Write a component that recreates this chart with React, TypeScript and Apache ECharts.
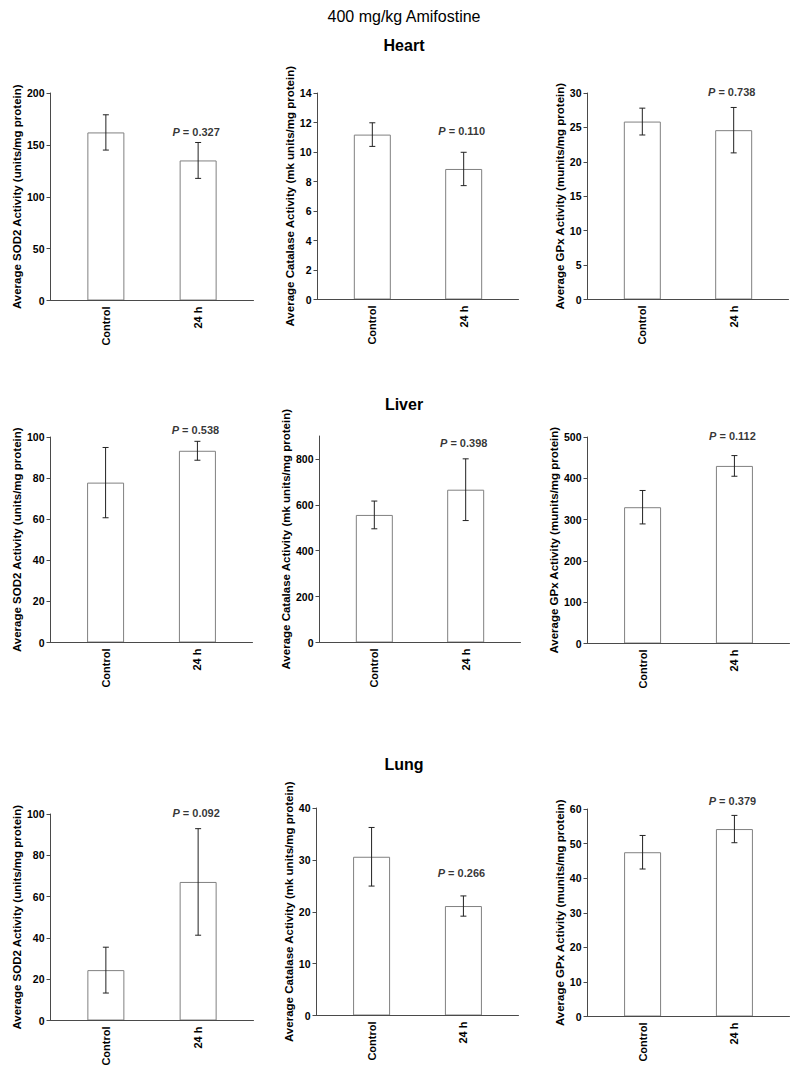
import React, { useEffect, useRef } from "react";
import * as echarts from "echarts";

// ---------- data ----------
const categories = ["Control", "24 h"];

const heartSod2Means = [162, 135];
const heartSod2Sem = [17, 17.3];
const heartSod2Ticks = [0, 50, 100, 150, 200];

const heartCatMeans = [11.18, 8.85];
const heartCatSem = [0.8, 1.13];
const heartCatTicks = [0, 2, 4, 6, 8, 10, 12, 14];

const heartGpxMeans = [25.85, 24.6];
const heartGpxSem = [1.95, 3.3];
const heartGpxTicks = [0, 5, 10, 15, 20, 25, 30];

const liverSod2Means = [77.8, 93.3];
const liverSod2Sem = [17.1, 4.6];
const liverSod2Ticks = [0, 20, 40, 60, 80, 100];

const liverCatMeans = [556, 666];
const liverCatSem = [60.5, 134.5];
const liverCatTicks = [0, 200, 400, 600, 800];

const liverGpxMeans = [330, 430];
const liverGpxSem = [40.5, 25];
const liverGpxTicks = [0, 100, 200, 300, 400, 500];

const lungSod2Means = [24.4, 67.1];
const lungSod2Sem = [11.1, 25.8];
const lungSod2Ticks = [0, 20, 40, 60, 80, 100];

const lungCatMeans = [30.6, 21.1];
const lungCatSem = [5.65, 1.95];
const lungCatTicks = [0, 10, 20, 30, 40];

const lungGpxMeans = [47.5, 54.2];
const lungGpxSem = [4.85, 3.95];
const lungGpxTicks = [0, 10, 20, 30, 40, 50, 60];

const pValues = ["0.327", "0.110", "0.738", "0.538", "0.398", "0.112", "0.092", "0.266", "0.379"];
const pLabelY = [162.5, 11.45, 30.1, 103.6, 868, 501.7, 100.6, 27.5, 62.2];

const axisMax = [200, 14, 30, 100, 900, 500, 100, 40, 60];

const sod2Name = "Average SOD2 Activity (units/mg protein)";
const catName = "Average Catalase Activity (mk units/mg protein)";
const gpxName = "Average GPx Activity (munits/mg protein)";

const mainTitle = "400 mg/kg Amifostine";
const organTitles = ["Heart", "Liver", "Lung"];

// ---------- layout ----------
const FONT = "'Liberation Sans', Arial, Helvetica, sans-serif";

const panelMeans = [heartSod2Means, heartCatMeans, heartGpxMeans, liverSod2Means, liverCatMeans, liverGpxMeans, lungSod2Means, lungCatMeans, lungGpxMeans];
const panelSem = [heartSod2Sem, heartCatSem, heartGpxSem, liverSod2Sem, liverCatSem, liverGpxSem, lungSod2Sem, lungCatSem, lungGpxSem];
const panelTicks = [heartSod2Ticks, heartCatTicks, heartGpxTicks, liverSod2Ticks, liverCatTicks, liverGpxTicks, lungSod2Ticks, lungCatTicks, lungGpxTicks];
const panelNames = [sod2Name, catName, gpxName, sod2Name, catName, gpxName, sod2Name, catName, gpxName];

const gridBoxes = [
  { left: 50.5, top: 93, width: 203, height: 207.5 },
  { left: 317.5, top: 93, width: 201, height: 206.5 },
  { left: 587.5, top: 93, width: 201, height: 206.5 },
  { left: 50.5, top: 437, width: 202, height: 205.5 },
  { left: 319.5, top: 436, width: 201, height: 206.5 },
  { left: 587.5, top: 437, width: 202, height: 206.5 },
  { left: 50.5, top: 814, width: 203, height: 206.5 },
  { left: 316.5, top: 808, width: 202, height: 207.5 },
  { left: 587.5, top: 809, width: 202, height: 207.5 },
];
const nameGaps = [28, 21, 20, 27, 27, 26, 27, 20, 21];

const AXIS_COLOR = "#4a4a4a";
const BAR_BORDER = "#808080";

function buildOption() {
  const grid: any[] = [];
  const xAxis: any[] = [];
  const yAxis: any[] = [];
  const series: any[] = [];

  for (let i = 0; i < 9; i++) {
    grid.push({ ...gridBoxes[i], containLabel: false });
    xAxis.push({
      type: "value",
      gridIndex: i,
      min: -0.6,
      max: 1.6,
      z: 5,
      splitLine: { show: false },
      axisLine: { show: true, onZero: false, lineStyle: { color: AXIS_COLOR, width: 1 } },
      axisTick: { show: false },
      axisLabel: {
        customValues: [0, 1],
        formatter: (v: number) => categories[Math.round(v)] ?? "",
        rotate: 90,
        margin: 6,
        color: "#000",
        fontFamily: FONT,
        fontWeight: "bold",
        fontSize: 11,
      },
    });
    const ticks = panelTicks[i];
    yAxis.push({
      type: "value",
      gridIndex: i,
      min: 0,
      max: axisMax[i],
      z: 5,
      splitLine: { show: false },
      axisLine: { show: true, onZero: false, lineStyle: { color: AXIS_COLOR, width: 1 } },
      axisTick: { show: true, length: 4, customValues: ticks, lineStyle: { color: AXIS_COLOR } },
      axisLabel: {
        customValues: ticks,
        margin: 6,
        color: "#000",
        fontFamily: FONT,
        fontWeight: "bold",
        fontSize: 10.5,
      },
      name: panelNames[i],
      nameLocation: "middle",
      nameRotate: 90,
      nameGap: nameGaps[i],
      nameTextStyle: { color: "#000", fontFamily: FONT, fontWeight: "bold", fontSize: 11.5 },
    });

    const means = panelMeans[i];
    const sem = panelSem[i];
    series.push({
      type: "bar",
      xAxisIndex: i,
      yAxisIndex: i,
      barWidth: 37,
      z: 2,
      data: means.map((m, j) => [j, m]),
      itemStyle: { color: "#ffffff", borderColor: BAR_BORDER, borderWidth: 1 },
      silent: true,
    });
    series.push({
      type: "custom",
      xAxisIndex: i,
      yAxisIndex: i,
      z: 10,
      clip: false,
      encode: { x: 0, y: [1, 2] },
      data: means.map((m, j) => [j, m - sem[j], m + sem[j]]),
      renderItem: (params: any, api: any) => {
        const x = api.value(0);
        const lo = api.coord([x, api.value(1)]);
        const hi = api.coord([x, api.value(2)]);
        const cap = 3;
        const style = { stroke: "#222", lineWidth: 1 };
        return {
          type: "group",
          children: [
            { type: "line", shape: { x1: lo[0], y1: lo[1], x2: hi[0], y2: hi[1] }, style },
            { type: "line", shape: { x1: hi[0] - cap, y1: hi[1], x2: hi[0] + cap, y2: hi[1] }, style },
            { type: "line", shape: { x1: lo[0] - cap, y1: lo[1], x2: lo[0] + cap, y2: lo[1] }, style },
          ],
        };
      },
      silent: true,
    });
    series.push({
      type: "scatter",
      xAxisIndex: i,
      yAxisIndex: i,
      symbolSize: 0,
      z: 10,
      clip: false,
      data: [[1, pLabelY[i]]],
      label: {
        show: true,
        position: "inside",
        offset: [-2, 0],
        formatter: "{i|P} = " + pValues[i],
        color: "#000",
        fontFamily: FONT,
        fontWeight: "bold",
        fontSize: 11,
        rich: {
          i: { fontStyle: "italic", fontWeight: "bold", fontFamily: FONT, fontSize: 11, color: "#000" },
        },
      },
      silent: true,
    });
  }

  const titleY = [45, 404, 764];
  const graphic: any[] = [
    {
      type: "text",
      x: 404,
      y: 16,
      style: { text: mainTitle, fill: "#000", font: `16px ${FONT}`, align: "center", verticalAlign: "middle" },
    },
    ...organTitles.map((t, k) => ({
      type: "text",
      x: 404,
      y: titleY[k],
      style: { text: t, fill: "#000", font: `bold 16px ${FONT}`, align: "center", verticalAlign: "middle" },
    })),
  ];

  return { animation: false, backgroundColor: "#ffffff", grid, xAxis, yAxis, series, graphic };
}

export default function App() {
  const ref = useRef<HTMLDivElement>(null);
  useEffect(() => {
    if (!ref.current) return;
    const chart = echarts.init(ref.current, undefined, { renderer: "svg" });
    chart.setOption(buildOption());
    return () => chart.dispose();
  }, []);
  return (
    <div
      ref={ref}
      style={{ position: "absolute", left: 0, top: 0, width: 800, height: 1074, background: "#fff" }}
    />
  );
}
